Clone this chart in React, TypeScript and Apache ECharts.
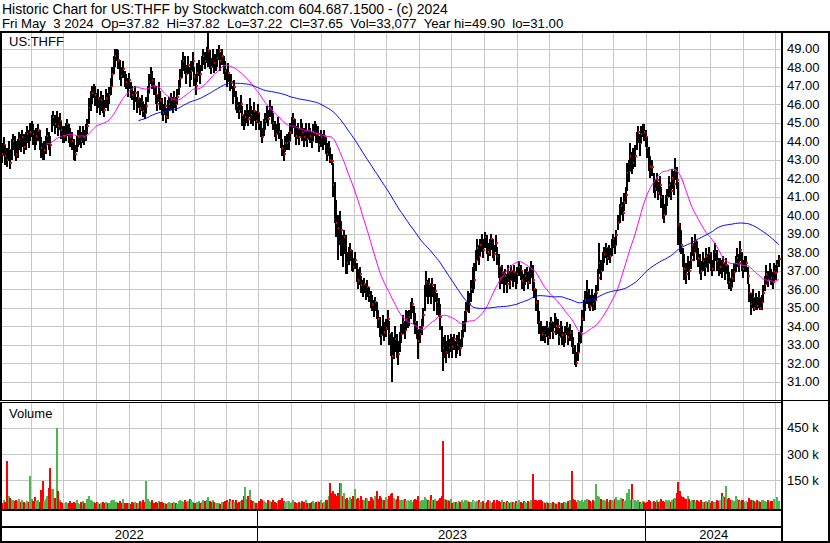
import React, { useEffect, useRef } from 'react';
import * as echarts from 'echarts';

// ---------- texts ----------
const TITLE_LINE_1 = 'Historic Chart for US:THFF by Stockwatch.com 604.687.1500 - (c) 2024';
const TITLE_LINE_2 = 'Fri May  3 2024  Op=37.82  Hi=37.82  Lo=37.22  Cl=37.65  Vol=33,077  Year hi=49.90  lo=31.00';
const SYMBOL_LABEL = 'US:THFF';
const VOLUME_LABEL = 'Volume';

// ---------- axis ticks ----------
const PRICE_TICKS = [31, 32, 33, 34, 35, 36, 37, 38, 39, 40, 41, 42, 43, 44, 45, 46, 47, 48, 49];
const VOLUME_TICKS = [150, 300, 450]; // thousands
const YEAR_LABELS = ['2022', '2023', '2024'];
const YEAR_BOUNDS = ['2023-01-01', '2024-01-01'];

// daily bars, one week per line (May 3 2022 .. May 3 2024)
const CLOSES = [
  43.6, 43.3, 43.8, 43.2,
  43.0, 43.5, 42.8, 43.6, 44.0,
  43.8, 43.3, 43.6, 44.1, 43.9,
  44.2, 43.7, 44.0, 44.4, 44.1,
  44.5, 44.8, 44.4, 44.0,
  44.3, 44.6, 44.0, 43.6, 43.4,
  43.5, 43.9, 44.3, 44.0, 43.8,
  45.0, 45.3, 44.9, 45.2,
  44.8, 45.1, 44.6, 44.3, 44.3,
  44.5, 44.9, 44.4, 44.2,
  44.0, 43.6, 43.3, 43.9, 44.2,
  44.3, 44.0, 44.4, 44.2, 44.5,
  44.8, 45.8, 46.2, 46.6, 46.9,
  46.5, 46.0, 46.3, 45.8, 46.2,
  46.0, 45.7, 46.3, 46.1, 46.5,
  47.0, 47.6, 48.2, 48.6, 48.8,
  48.4, 47.8, 47.5, 47.9, 47.3,
  47.2, 46.9, 47.3, 46.7, 46.5,
  46.2, 46.6, 45.9, 46.3,
  45.8, 46.1, 45.6, 45.5, 45.9,
  46.6, 47.2, 47.6, 47.3, 46.9,
  46.5, 46.0, 46.6, 46.2, 45.8,
  45.5, 45.9, 45.3, 45.7, 46.0,
  46.2, 45.9, 46.3, 46.0, 46.4,
  46.9, 47.4, 47.9, 48.3, 48.0,
  47.6, 48.1, 47.4, 47.8, 48.3,
  47.5, 47.0, 47.7, 48.0, 47.6,
  48.2, 48.6, 48.3, 48.7, 48.9,
  48.4, 48.0, 48.5, 48.2, 48.2,
  48.5, 48.9, 48.3, 48.6,
  48.1, 47.8, 47.4, 47.7, 47.2,
  47.2, 46.5, 46.9, 46.2, 45.9,
  45.6, 46.0, 45.4, 44.9, 45.3,
  45.5, 45.2, 45.8, 45.4, 45.2,
  45.6, 45.1, 45.5, 45.0,
  44.6, 44.2, 44.8, 45.1,
  45.5, 45.2, 45.8, 45.4, 45.0,
  44.7, 44.4, 44.9, 44.5,
  44.0, 43.6, 43.3, 43.9, 43.9,
  44.0, 44.5, 44.9, 45.2, 44.7,
  44.3, 44.6, 44.2, 44.8, 44.5,
  44.2, 44.5, 44.1, 44.6, 44.3,
  44.0, 44.5, 44.8, 44.4,
  44.4, 43.8, 44.2, 43.9, 44.3,
  43.8, 43.3, 43.6, 43.0, 42.9,
  41.6, 40.3, 39.6, 39.3, 38.9,
  39.2, 38.0, 38.8, 37.6, 37.4,
  37.8, 38.1, 37.5, 37.2, 37.6,
  37.0, 36.5, 36.8, 36.2,
  36.0, 36.3, 35.8, 36.1, 35.7,
  35.5, 35.2, 34.9, 35.3, 34.8,
  34.4, 33.9, 33.5, 34.1, 33.7,
  33.9, 34.4, 33.6, 33.0, 32.4,
  32.7, 33.3, 32.9, 32.5, 33.2,
  33.6, 34.2, 33.8, 34.4, 34.4,
  34.5, 34.9, 35.2, 34.6, 34.2,
  33.8, 33.2, 33.6, 34.0,
  34.6, 35.8, 36.4, 35.9, 36.3,
  35.8, 36.2, 35.5, 35.9, 35.3,
  35.0, 34.5, 33.2, 32.8,
  33.0, 32.6, 33.1, 32.8, 33.2,
  32.9, 33.3, 32.7, 33.0,
  33.2, 32.8, 33.4, 33.9, 34.3,
  34.8, 35.5, 35.2, 36.0, 36.5,
  36.5, 37.6, 38.2, 37.8, 38.4,
  38.6, 38.1, 38.8, 38.4, 38.0,
  38.3, 38.7, 38.2, 37.9, 38.5,
  37.8, 37.2, 36.6, 36.9, 36.4,
  36.7, 36.3, 36.9, 36.5, 37.0,
  36.6, 36.9, 36.4, 36.8, 37.2,
  37.0, 36.5, 36.3, 36.7,
  36.9, 36.4, 36.8, 37.1, 36.5,
  36.0, 35.3, 34.6, 34.2, 33.8,
  33.6, 33.6, 33.5, 33.9, 33.4,
  33.8, 34.2, 33.7, 34.4, 34.0,
  34.0, 33.4, 33.9, 33.5, 33.2,
  33.6, 33.9, 33.4, 33.7, 33.3,
  32.9, 32.4, 32.0, 32.6, 33.1,
  33.6, 34.4, 34.9, 35.4, 35.9,
  35.5, 35.1, 35.6, 35.2, 35.4,
  35.8, 36.6, 37.4, 37.0, 37.6,
  37.9, 38.2, 37.7, 38.1,
  37.8, 38.3, 38.7, 38.4, 38.9,
  39.6, 40.2, 40.5, 40.1, 40.7,
  41.1, 42.3, 42.4, 43.2, 42.8,
  42.8, 43.2, 44.1, 44.5, 43.9,
  44.4, 44.7, 44.5, 44.2,
  43.6, 43.0, 42.6, 42.6,
  41.8, 41.4, 41.9, 41.2, 41.6,
  41.0, 40.4, 40.0, 40.6,
  41.0, 41.6, 41.3, 42.0, 41.7,
  42.4, 41.9, 39.5, 38.8, 38.4,
  37.8, 37.1, 36.8, 37.4, 37.0,
  37.6, 38.4, 38.0, 38.6, 38.1,
  37.7, 37.3, 37.0, 37.5,
  37.2, 37.8, 37.4, 37.9, 37.5,
  37.1, 37.6, 38.0, 37.5, 37.2,
  37.2, 37.0, 37.4, 36.9, 37.3,
  36.8, 36.4, 36.1, 36.6, 36.9,
  37.3, 37.7, 37.4, 38.1,
  37.5, 37.1, 37.4, 37.4, 36.7,
  35.8, 35.2, 35.5, 35.0, 35.4,
  35.1, 35.5, 35.0, 35.3, 35.8,
  36.3, 36.8, 36.5, 37.0, 36.6,
  36.4, 36.9, 36.9, 37.3, 37.65,
];

const HIGHS = [
  44.1, 43.9, 44.2, 43.8,
  43.6, 44.0, 43.5, 44.1, 44.4,
  44.3, 44.0, 44.1, 44.5, 44.4,
  44.6, 44.4, 44.5, 44.8, 44.6,
  45.0, 45.1, 44.9, 44.6,
  44.7, 44.9, 44.6, 44.2, 43.9,
  44.0, 44.3, 44.7, 44.5, 44.3,
  45.4, 45.6, 45.4, 45.6,
  45.3, 45.5, 45.1, 44.8, 44.8,
  45.0, 45.2, 44.9, 44.7,
  44.5, 44.1, 43.8, 44.3, 44.6,
  44.8, 44.5, 44.8, 44.6, 44.9,
  45.2, 46.3, 46.7, 47.0, 47.1,
  47.0, 46.6, 46.8, 46.4, 46.7,
  46.5, 46.2, 46.8, 46.6, 46.9,
  47.4, 48.0, 48.6, 49.0, 49.0,
  48.9, 48.4, 48.0, 48.3, 47.8,
  47.6, 47.4, 47.7, 47.2, 47.0,
  46.7, 47.0, 46.4, 46.7,
  46.3, 46.5, 46.1, 46.0, 46.4,
  47.0, 47.6, 48.0, 47.8, 47.4,
  47.0, 46.5, 47.2, 46.7, 46.3,
  46.0, 46.4, 45.8, 46.2, 46.4,
  46.6, 46.4, 46.7, 46.4, 46.8,
  47.3, 47.9, 48.4, 48.8, 48.6,
  48.1, 48.6, 48.0, 48.3, 48.8,
  48.0, 47.6, 48.2, 48.4, 48.1,
  48.6, 49.0, 48.8, 49.1, 49.9,
  48.9, 48.5, 49.0, 48.7, 48.7,
  49.0, 49.2, 48.8, 49.0,
  48.6, 48.3, 47.9, 48.2, 47.6,
  47.6, 47.0, 47.3, 46.7, 46.4,
  46.1, 46.5, 45.9, 45.4, 45.7,
  46.0, 45.7, 46.3, 45.9, 45.7,
  46.1, 45.6, 46.0, 45.5,
  45.1, 44.7, 45.2, 45.5,
  45.9, 45.7, 46.2, 45.9, 45.5,
  45.1, 44.9, 45.3, 45.0,
  44.6, 44.1, 43.8, 44.3, 44.4,
  44.5, 45.0, 45.3, 45.5, 45.2,
  44.8, 45.0, 44.7, 45.2, 45.0,
  44.7, 45.0, 44.6, 45.0, 44.7,
  44.5, 44.9, 45.1, 44.9,
  44.8, 44.3, 44.6, 44.4, 44.6,
  44.2, 43.9, 44.0, 43.6, 43.3,
  42.8, 41.8, 40.8, 40.0, 40.2,
  39.7, 38.9, 39.2, 38.9, 38.0,
  38.3, 38.5, 38.1, 37.7, 38.0,
  37.4, 37.1, 37.2, 36.7,
  36.5, 36.6, 36.3, 36.5, 36.1,
  35.9, 35.7, 35.4, 35.6, 35.3,
  34.9, 34.5, 34.0, 34.6, 34.2,
  34.4, 34.9, 34.3, 33.6, 33.7,
  33.4, 34.0, 33.6, 33.2, 33.7,
  34.1, 34.6, 34.3, 34.9, 34.8,
  34.9, 35.3, 35.5, 35.1, 34.7,
  34.3, 33.8, 34.0, 34.4,
  35.0, 36.2, 37.0, 36.5, 36.6,
  36.3, 36.6, 36.1, 36.3, 35.8,
  35.5, 35.2, 34.0, 33.4,
  33.5, 33.2, 33.5, 33.3, 33.6,
  33.4, 33.6, 33.2, 33.5,
  33.7, 33.3, 33.8, 34.3, 34.8,
  35.3, 35.9, 35.8, 36.5, 37.2,
  37.4, 38.1, 38.7, 38.4, 38.7,
  39.0, 38.7, 39.1, 38.9, 38.5,
  38.7, 39.0, 38.7, 38.4, 38.9,
  38.3, 37.9, 37.2, 37.3, 36.9,
  37.1, 36.8, 37.3, 37.0, 37.3,
  37.0, 37.3, 36.9, 37.2, 37.5,
  37.3, 37.0, 36.8, 37.1,
  37.2, 36.9, 37.2, 37.5, 37.3,
  36.4, 36.0, 35.4, 34.8, 34.3,
  34.0, 34.0, 34.0, 34.3, 33.9,
  34.2, 34.5, 34.2, 34.7, 34.5,
  34.4, 33.9, 34.3, 34.0, 33.7,
  34.0, 34.2, 33.9, 34.1, 33.8,
  33.4, 33.0, 32.6, 33.1, 33.7,
  34.0, 34.9, 35.4, 35.9, 36.5,
  36.0, 35.7, 36.0, 35.7, 35.8,
  36.2, 37.1, 38.5, 37.6, 38.0,
  38.3, 38.5, 38.2, 38.4,
  38.2, 38.7, 39.0, 38.8, 39.2,
  40.0, 40.6, 41.0, 40.7, 41.2,
  41.5, 42.8, 43.0, 43.9, 43.4,
  43.6, 43.8, 44.5, 44.8, 44.4,
  44.8, 44.9, 44.9, 44.6,
  44.2, 43.7, 43.2, 43.0,
  42.3, 41.9, 42.3, 41.8, 42.1,
  41.5, 41.1, 40.6, 41.1,
  41.4, 42.1, 41.8, 42.5, 42.4,
  43.1, 42.6, 41.8, 39.6, 39.2,
  38.2, 37.9, 37.4, 37.8, 37.5,
  38.0, 38.8, 38.5, 39.0, 38.6,
  38.2, 37.9, 37.5, 38.0,
  37.7, 38.2, 37.9, 38.3, 38.0,
  37.6, 38.1, 38.5, 38.1, 37.7,
  37.7, 37.6, 37.8, 37.4, 37.7,
  37.3, 36.9, 36.6, 37.1, 37.4,
  37.8, 38.2, 37.9, 38.6,
  38.0, 37.6, 37.8, 37.8, 37.2,
  36.3, 35.8, 36.0, 35.5, 35.8,
  35.6, 35.9, 35.5, 35.7, 36.2,
  36.7, 37.3, 37.0, 37.4, 37.1,
  36.9, 37.4, 37.3, 37.6, 37.82,
];

const LOWS = [
  43.0, 42.8, 43.2, 42.7,
  42.6, 42.9, 42.5, 43.0, 43.5,
  43.2, 42.9, 43.1, 43.5, 43.4,
  43.7, 43.3, 43.5, 43.9, 43.6,
  44.0, 44.2, 43.8, 43.5,
  43.8, 44.0, 43.5, 43.1, 43.0,
  43.0, 43.3, 43.8, 43.5, 43.2,
  44.5, 44.8, 44.4, 44.7,
  44.3, 44.6, 44.1, 43.9, 43.9,
  44.0, 44.3, 43.9, 43.7,
  43.5, 43.0, 42.9, 43.4, 43.7,
  43.8, 43.6, 43.9, 43.8, 44.0,
  44.4, 44.9, 45.6, 46.0, 46.3,
  45.9, 45.5, 45.8, 45.4, 45.6,
  45.5, 45.3, 45.8, 45.6, 46.0,
  46.5, 47.0, 47.6, 48.0, 48.3,
  47.9, 47.3, 47.0, 47.4, 46.9,
  46.8, 46.4, 46.8, 46.3, 46.2,
  45.7, 46.1, 45.5, 45.8,
  45.4, 45.6, 45.3, 45.2, 45.5,
  46.1, 46.6, 47.1, 46.8, 46.5,
  46.0, 45.6, 46.1, 45.7, 45.4,
  45.1, 45.4, 45.0, 45.2, 45.6,
  45.7, 45.5, 45.8, 45.6, 46.0,
  46.5, 46.9, 47.4, 47.8, 47.6,
  47.1, 47.6, 46.9, 47.3, 47.8,
  47.0, 46.5, 47.2, 47.5, 47.1,
  47.8, 48.1, 47.9, 48.2, 48.0,
  47.9, 47.6, 48.0, 47.7, 47.8,
  48.0, 48.4, 47.8, 48.1,
  47.6, 47.3, 46.9, 47.2, 46.7,
  46.8, 46.0, 46.4, 45.7, 45.5,
  45.2, 45.5, 44.8, 44.6, 44.8,
  45.0, 44.8, 45.3, 44.9, 44.8,
  45.1, 44.6, 45.0, 44.6,
  44.2, 43.9, 44.3, 44.6,
  45.0, 44.8, 45.3, 44.9, 44.6,
  44.2, 44.0, 44.4, 44.1,
  43.6, 43.2, 42.9, 43.4, 43.5,
  43.5, 44.0, 44.4, 44.7, 44.2,
  43.8, 44.1, 43.8, 44.3, 44.0,
  43.7, 44.0, 43.7, 44.1, 43.9,
  43.6, 44.0, 44.3, 43.9,
  43.9, 43.4, 43.7, 43.5, 43.8,
  43.3, 42.9, 43.2, 42.8, 42.7,
  41.0, 39.6, 38.8, 37.6, 38.4,
  37.8, 37.2, 37.9, 36.8, 36.8,
  37.3, 37.5, 37.0, 36.9, 37.1,
  36.4, 36.0, 36.2, 35.8,
  35.6, 35.8, 35.4, 35.6, 35.3,
  35.0, 34.8, 34.5, 34.8, 34.4,
  33.9, 33.4, 33.0, 33.5, 33.2,
  33.4, 33.8, 33.0, 32.4, 31.0,
  32.2, 32.6, 32.3, 31.9, 32.6,
  33.1, 33.6, 33.3, 33.8, 33.9,
  34.0, 34.4, 34.7, 34.1, 33.6,
  33.3, 32.2, 33.1, 33.5,
  34.0, 34.8, 35.6, 35.2, 35.6,
  35.2, 35.6, 34.8, 35.3, 34.6,
  34.5, 33.8, 32.6, 31.6,
  32.3, 32.0, 32.5, 32.3, 32.6,
  32.3, 32.7, 32.3, 32.5,
  32.7, 32.4, 32.9, 33.4, 33.7,
  34.2, 34.8, 34.7, 35.3, 35.8,
  36.0, 37.0, 37.6, 37.3, 37.8,
  38.0, 37.7, 38.2, 37.9, 37.5,
  37.8, 38.1, 37.7, 37.5, 38.0,
  37.3, 36.6, 36.0, 36.3, 35.8,
  36.2, 35.8, 36.4, 36.0, 36.5,
  36.1, 36.4, 36.0, 36.3, 36.7,
  36.5, 36.0, 35.9, 36.2,
  36.4, 36.0, 36.3, 36.6, 35.9,
  35.5, 34.8, 34.1, 33.6, 33.2,
  33.2, 33.2, 33.1, 33.4, 33.0,
  33.3, 33.7, 33.3, 33.9, 33.5,
  33.6, 33.0, 33.4, 33.0, 32.9,
  33.1, 33.5, 33.0, 33.2, 32.9,
  32.5, 31.9, 31.8, 32.1, 32.6,
  33.1, 33.7, 34.3, 34.8, 35.2,
  35.0, 34.8, 35.1, 34.8, 34.9,
  35.4, 35.9, 36.8, 36.5, 37.0,
  37.4, 37.7, 37.3, 37.6,
  37.4, 37.8, 38.2, 37.9, 38.4,
  39.2, 39.6, 40.0, 39.7, 40.2,
  40.6, 41.3, 41.8, 42.4, 42.2,
  42.5, 42.6, 43.5, 43.9, 43.2,
  43.9, 44.2, 44.0, 43.7,
  43.1, 42.4, 42.0, 42.1,
  41.2, 40.9, 41.3, 40.8, 41.1,
  40.4, 39.8, 39.6, 40.0,
  40.5, 41.0, 40.8, 41.4, 41.1,
  41.9, 41.4, 38.4, 38.0, 37.9,
  37.2, 36.5, 36.3, 36.9, 36.5,
  37.1, 37.8, 37.5, 38.0, 37.6,
  37.2, 36.8, 36.5, 37.0,
  36.7, 37.2, 36.9, 37.4, 37.0,
  36.7, 37.0, 37.5, 37.0, 36.7,
  36.8, 36.6, 36.9, 36.5, 36.8,
  36.3, 36.0, 35.9, 36.1, 36.4,
  36.9, 37.2, 36.9, 37.5,
  37.0, 36.6, 36.9, 36.9, 36.3,
  35.3, 34.6, 35.0, 34.8, 34.9,
  34.9, 35.0, 34.9, 34.9, 35.3,
  35.9, 36.3, 36.1, 36.5, 36.2,
  36.0, 36.4, 36.5, 36.9, 37.22,
];

// volume in thousands of shares
const VOLUMES = [
  30, 22, 35, 28,
  262, 60, 48, 35, 40,
  32, 38, 30, 42, 25,
  36, 28, 22, 30, 26,
  175, 45, 30, 55,
  32, 40, 28, 94, 146,
  30, 42, 60, 108, 220,
  100, 98, 50, 448,
  89, 40, 28, 22, 18,
  25, 18, 20, 30,
  22, 28, 18, 35, 20,
  15, 24, 30, 18, 22,
  45, 60, 35, 30, 25,
  18, 28, 22, 16, 20,
  24, 18, 26, 20, 22,
  30, 35, 40, 28, 25,
  22, 30, 18, 45, 20,
  18, 22, 20, 16, 28,
  20, 25, 18, 22,
  30, 24, 35, 28, 146,
  45, 30, 28, 35, 22,
  25, 20, 32, 28, 24,
  18, 22, 15, 20, 25,
  22, 18, 28, 20, 16,
  32, 40, 30, 28, 35,
  25, 30, 45, 38, 28,
  22, 18, 25, 30, 20,
  28, 35, 30, 40, 55,
  30, 25, 38, 28, 22,
  20, 18, 15, 25,
  28, 32, 40, 25, 45,
  30, 38, 28, 35, 22,
  25, 30, 40, 60, 113,
  45, 60, 96, 40, 30,
  25, 20, 18, 30,
  45, 38, 30, 28,
  22, 35, 30, 25, 40,
  28, 22, 30, 35,
  40, 48, 30, 25, 32,
  30, 22, 28, 35, 25,
  20, 18, 25, 22, 30,
  28, 35, 22, 18, 20,
  25, 30, 22, 28,
  30, 26, 35, 22, 28,
  35, 40, 60, 136, 80,
  90, 70, 60, 75, 136,
  136, 60, 80, 45, 50,
  40, 55, 45, 60, 100,
  45, 50, 38, 60,
  40, 35, 50, 45, 30,
  55, 48, 40, 60, 86,
  45, 60, 50, 40, 38,
  55, 45, 60, 70, 80,
  50, 40, 45, 60, 35,
  40, 35, 45, 30, 38,
  30, 35, 28, 40, 45,
  38, 60, 30, 35,
  40, 55, 45, 35, 30,
  66, 40, 35, 45, 30,
  40, 50, 60, 375,
  45, 40, 35, 30, 45,
  20, 25, 28, 22,
  30, 25, 35, 28, 40,
  35, 30, 28, 25, 40,
  32, 25, 30, 35, 28,
  25, 30, 22, 28, 35,
  30, 22, 26, 35, 20,
  40, 30, 25, 35, 28,
  22, 30, 25, 20, 28,
  25, 20, 30, 22, 35,
  28, 22, 30, 25,
  22, 30, 26, 35, 186,
  40, 35, 30, 35, 40,
  30, 25, 22, 28, 20,
  18, 22, 25, 20, 15,
  20, 25, 18, 22, 28,
  24, 20, 30, 35, 203,
  45, 35, 25, 40, 30,
  30, 35, 28, 40, 45,
  35, 30, 25, 40, 32,
  129, 60, 55, 45, 40,
  35, 30, 45, 28,
  40, 35, 30, 45, 55,
  40, 35, 50, 45, 30,
  35, 78, 98, 40, 129,
  45, 35, 30, 40, 25,
  22, 30, 28, 20,
  25, 35, 30, 28,
  30, 25, 35, 28, 30,
  45, 30, 25, 35,
  30, 40, 28, 35, 45,
  50, 75, 140, 90, 60,
  55, 50, 45, 60, 45,
  30, 35, 40, 28, 35,
  30, 25, 35, 28,
  25, 30, 28, 35, 22,
  30, 25, 28, 35, 30,
  40, 80, 60, 55, 117,
  45, 50, 35, 40, 30,
  60, 45, 35, 30,
  35, 40, 28, 30, 25,
  50, 35, 40, 30, 28,
  35, 30, 28, 40, 35,
  30, 28, 35, 25, 30,
  32, 45, 40, 55, 33.077,
];

const MA_SHORT = 30;
const MA_LONG = 90;

// ---------- layout ----------
const FONT = '"Liberation Sans", Arial, Helvetica, sans-serif';
const HEADER_FONT_1 = `14px ${FONT}`;
const HEADER_FONT_2 = `13.2px ${FONT}`;
const PLOT_RIGHT = 781;
const X_INDEX_MIN = -0.54;
const X_INDEX_MAX = 504.4;
const TIME_MIN = Date.UTC(2022, 4, 2, 20);
const TIME_MAX = Date.UTC(2024, 4, 6, 14, 24);
const GRID_COLOR = '#c8c8c8';

function sma(values: number[], n: number): number[][] {
  const out: number[][] = [];
  let sum = 0;
  for (let i = 0; i < values.length; i++) {
    sum += values[i];
    if (i >= n) sum -= values[i - n];
    if (i >= n - 1) out.push([i, +(sum / n).toFixed(3)]);
  }
  return out;
}

function monthStarts(): number[] {
  const out: number[] = [];
  const d = new Date(TIME_MIN);
  let y = d.getUTCFullYear();
  let m = d.getUTCMonth() + 1;
  for (;;) {
    if (m > 11) { m = 0; y++; }
    const t = Date.UTC(y, m, 1);
    if (t > TIME_MAX) break;
    out.push(t);
    m++;
  }
  return out;
}

export default function App() {
  const ref = useRef<HTMLDivElement>(null);

  useEffect(() => {
    document.body.style.margin = '0';
    if (!ref.current) return;
    const chart = echarts.init(ref.current, undefined, { renderer: 'svg' });

    const n = Math.min(CLOSES.length, HIGHS.length, LOWS.length, VOLUMES.length);
    const priceData: number[][] = [];
    const volData: number[][] = [];
    for (let i = 0; i < n; i++) {
      priceData.push([i, HIGHS[i], LOWS[i], CLOSES[i]]);
      const dir = i === 0 ? 1 : CLOSES[i] > CLOSES[i - 1] ? 1 : CLOSES[i] < CLOSES[i - 1] ? -1 : 0;
      volData.push([i, VOLUMES[i], dir]);
    }
    const closes = CLOSES.slice(0, n);
    const months = monthStarts();

    const yearBounds = YEAR_BOUNDS.map((s) => Date.parse(s + 'T00:00:00Z'));
    const yearSpans = YEAR_LABELS.map((label, k) => [
      k === 0 ? TIME_MIN : yearBounds[k - 1],
      k === YEAR_LABELS.length - 1 ? TIME_MAX : yearBounds[k],
      k,
    ]);

    const vLine = (x: number, y1: number, y2: number, color: string) => ({
      type: 'line',
      shape: { x1: x, y1, x2: x, y2 },
      style: { stroke: color, lineWidth: 1 },
    });

    const labelStyle = { color: '#000', fontSize: 13, fontFamily: FONT };

    const option: any = {
      animation: false,
      backgroundColor: '#ffffff',
      grid: [
        { left: 0, top: 30, width: PLOT_RIGHT, height: 370.2, show: false },
        { left: 0, top: 401.7, width: PLOT_RIGHT, height: 104.8, show: false },
      ],
      xAxis: [
        { gridIndex: 0, type: 'value', min: X_INDEX_MIN, max: X_INDEX_MAX, show: false },
        { gridIndex: 0, type: 'value', min: TIME_MIN, max: TIME_MAX, show: false },
        { gridIndex: 1, type: 'value', min: X_INDEX_MIN, max: X_INDEX_MAX, show: false },
        { gridIndex: 1, type: 'value', min: TIME_MIN, max: TIME_MAX, show: false },
      ],
      yAxis: [
        {
          gridIndex: 0, type: 'value', position: 'right', min: 30, max: 50, interval: 1,
          axisLine: { show: false }, axisTick: { show: false }, splitLine: { show: false },
          axisLabel: { ...labelStyle, margin: 6, showMinLabel: false, showMaxLabel: false, formatter: (v: number) => v.toFixed(2) },
        },
        {
          gridIndex: 1, type: 'value', position: 'right', min: 0, max: 600, interval: 150,
          axisLine: { show: false }, axisTick: { show: false }, splitLine: { show: false },
          axisLabel: { ...labelStyle, margin: 6, showMinLabel: false, showMaxLabel: false, formatter: (v: number) => `${v} k` },
        },
      ],
      series: [
        {
          type: 'custom', xAxisIndex: 1, yAxisIndex: 0, silent: true, z: 1,
          data: months.map((t) => [t, 40]),
          renderItem: (params: any, api: any) => {
            const cs = params.coordSys;
            const x = Math.round(api.coord([api.value(0), 40])[0]) + 0.5;
            return vLine(x, cs.y, cs.y + cs.height, GRID_COLOR);
          },
        },
        {
          type: 'custom', xAxisIndex: 0, yAxisIndex: 0, silent: true, z: 1,
          data: PRICE_TICKS.map((v) => [0, v]),
          renderItem: (params: any, api: any) => {
            const cs = params.coordSys;
            const y = Math.round(api.coord([0, api.value(1)])[1]) + 0.5;
            return { type: 'line', shape: { x1: cs.x, y1: y, x2: cs.x + cs.width, y2: y }, style: { stroke: GRID_COLOR, lineWidth: 1 } };
          },
        },
        {
          type: 'custom', xAxisIndex: 3, yAxisIndex: 1, silent: true, z: 1,
          data: months.map((t) => [t, 300]),
          renderItem: (params: any, api: any) => {
            const cs = params.coordSys;
            const x = Math.round(api.coord([api.value(0), 300])[0]) + 0.5;
            return vLine(x, cs.y, cs.y + cs.height + 2.5, GRID_COLOR);
          },
        },
        {
          type: 'custom', xAxisIndex: 2, yAxisIndex: 1, silent: true, z: 1,
          data: VOLUME_TICKS.map((v) => [0, v]),
          renderItem: (params: any, api: any) => {
            const cs = params.coordSys;
            const y = Math.round(api.coord([0, api.value(1)])[1]) + 0.5;
            return { type: 'line', shape: { x1: cs.x, y1: y, x2: cs.x + cs.width, y2: y }, style: { stroke: GRID_COLOR, lineWidth: 1 } };
          },
        },
        {
          type: 'custom', name: 'THFF', xAxisIndex: 0, yAxisIndex: 0, silent: true, z: 3,
          data: priceData,
          renderItem: (params: any, api: any) => {
            const i = api.value(0);
            const top = api.coord([i, api.value(1)]);
            const bot = api.coord([i, api.value(2)]);
            const c = api.coord([i, api.value(3)]);
            const x = Math.round(top[0]);
            const y1 = Math.round(top[1]);
            const y2 = Math.round(bot[1]);
            const yc = Math.round(c[1]);
            return {
              type: 'group',
              children: [
                { type: 'rect', shape: { x: x - 1, y: y1, width: 2, height: Math.max(1, y2 - y1) }, style: { fill: '#000000' } },
                { type: 'rect', shape: { x: x, y: yc - 1, width: 2, height: 2 }, style: { fill: '#ff0000' } },
              ],
            };
          },
        },
        {
          type: 'line', name: 'MA30', xAxisIndex: 0, yAxisIndex: 0, z: 4, silent: true,
          data: sma(closes, MA_SHORT), showSymbol: false, symbol: 'none',
          lineStyle: { color: '#ff00ff', width: 1 },
        },
        {
          type: 'line', name: 'MA90', xAxisIndex: 0, yAxisIndex: 0, z: 4, silent: true,
          data: sma(closes, MA_LONG), showSymbol: false, symbol: 'none',
          lineStyle: { color: '#0000ff', width: 1 },
        },
        {
          type: 'custom', name: 'Volume', xAxisIndex: 2, yAxisIndex: 1, silent: true, z: 3,
          data: volData,
          renderItem: (params: any, api: any) => {
            const i = api.value(0);
            const p = api.coord([i, api.value(1)]);
            const base = Math.round(api.coord([i, 0])[1] + 2.5);
            const y = Math.round(p[1]);
            const x = Math.round(p[0]);
            const dir = api.value(2);
            const fill = dir > 0 ? '#4cb84c' : dir < 0 ? '#ff0000' : '#a8a8a8';
            return { type: 'rect', shape: { x: x - 1, y, width: 2, height: Math.max(1, base - y) }, style: { fill } };
          },
        },
        {
          type: 'custom', xAxisIndex: 3, yAxisIndex: 1, silent: true, z: 5,
          data: yearSpans,
          renderItem: (params: any, api: any) => {
            const cs = params.coordSys;
            const x1 = api.coord([api.value(0), 0])[0];
            const x2 = api.coord([api.value(1), 0])[0];
            const bottom = cs.y + cs.height;
            const children: any[] = [
              {
                type: 'text',
                style: {
                  x: (x1 + x2) / 2, y: bottom + 28, text: YEAR_LABELS[api.value(2)],
                  fill: '#000', font: `13px ${FONT}`, textAlign: 'center', textVerticalAlign: 'middle', verticalAlign: 'middle',
                },
              },
            ];
            if (api.value(2) > 0) {
              const xs = Math.round(x1) - 0.5;
              children.push(vLine(xs, bottom + 2.5, bottom + 35, '#000'));
            }
            return { type: 'group', children };
          },
        },
      ],
      graphic: [
        { type: 'text', z: 100, style: { x: 2, y: 8.6, text: TITLE_LINE_1, fill: '#000', font: HEADER_FONT_1, textVerticalAlign: 'middle', verticalAlign: 'middle' } },
        { type: 'text', z: 100, style: { x: 2, y: 23.9, text: TITLE_LINE_2, fill: '#000', font: HEADER_FONT_2, textVerticalAlign: 'middle', verticalAlign: 'middle' } },
        { type: 'rect', z: 100, shape: { x: 0, y: 31, width: 830, height: 2 }, style: { fill: '#000' } },
        { type: 'rect', z: 100, shape: { x: 0, y: 31, width: 2, height: 512 }, style: { fill: '#000' } },
        { type: 'rect', z: 100, shape: { x: PLOT_RIGHT, y: 31, width: 2, height: 512 }, style: { fill: '#000' } },
        { type: 'rect', z: 100, shape: { x: 828, y: 31, width: 2, height: 512 }, style: { fill: '#000' } },
        { type: 'rect', z: 100, shape: { x: 0, y: 400, width: 830, height: 1 }, style: { fill: '#000' } },
        { type: 'rect', z: 100, shape: { x: 0, y: 401, width: PLOT_RIGHT, height: 1 }, style: { fill: '#fff' } },
        { type: 'rect', z: 100, shape: { x: 0, y: 402, width: PLOT_RIGHT, height: 1 }, style: { fill: '#000' } },
        { type: 'rect', z: 100, shape: { x: 0, y: 509, width: PLOT_RIGHT, height: 2 }, style: { fill: '#000' } },
        { type: 'rect', z: 100, shape: { x: 0, y: 526, width: PLOT_RIGHT, height: 2 }, style: { fill: '#000' } },
        { type: 'rect', z: 100, shape: { x: 0, y: 541, width: 830, height: 2 }, style: { fill: '#000' } },
        { type: 'text', z: 100, style: { x: 9, y: 41.5, text: SYMBOL_LABEL, fill: '#000', font: `13px ${FONT}`, textVerticalAlign: 'middle', verticalAlign: 'middle' } },
        { type: 'text', z: 100, style: { x: 9, y: 413, text: VOLUME_LABEL, fill: '#000', font: `13px ${FONT}`, textVerticalAlign: 'middle', verticalAlign: 'middle' } },
      ],
    };

    chart.setOption(option);
    return () => chart.dispose();
  }, []);

  return <div ref={ref} style={{ position: 'fixed', left: 0, top: 0, width: 830, height: 543, background: '#fff' }} />;
}
